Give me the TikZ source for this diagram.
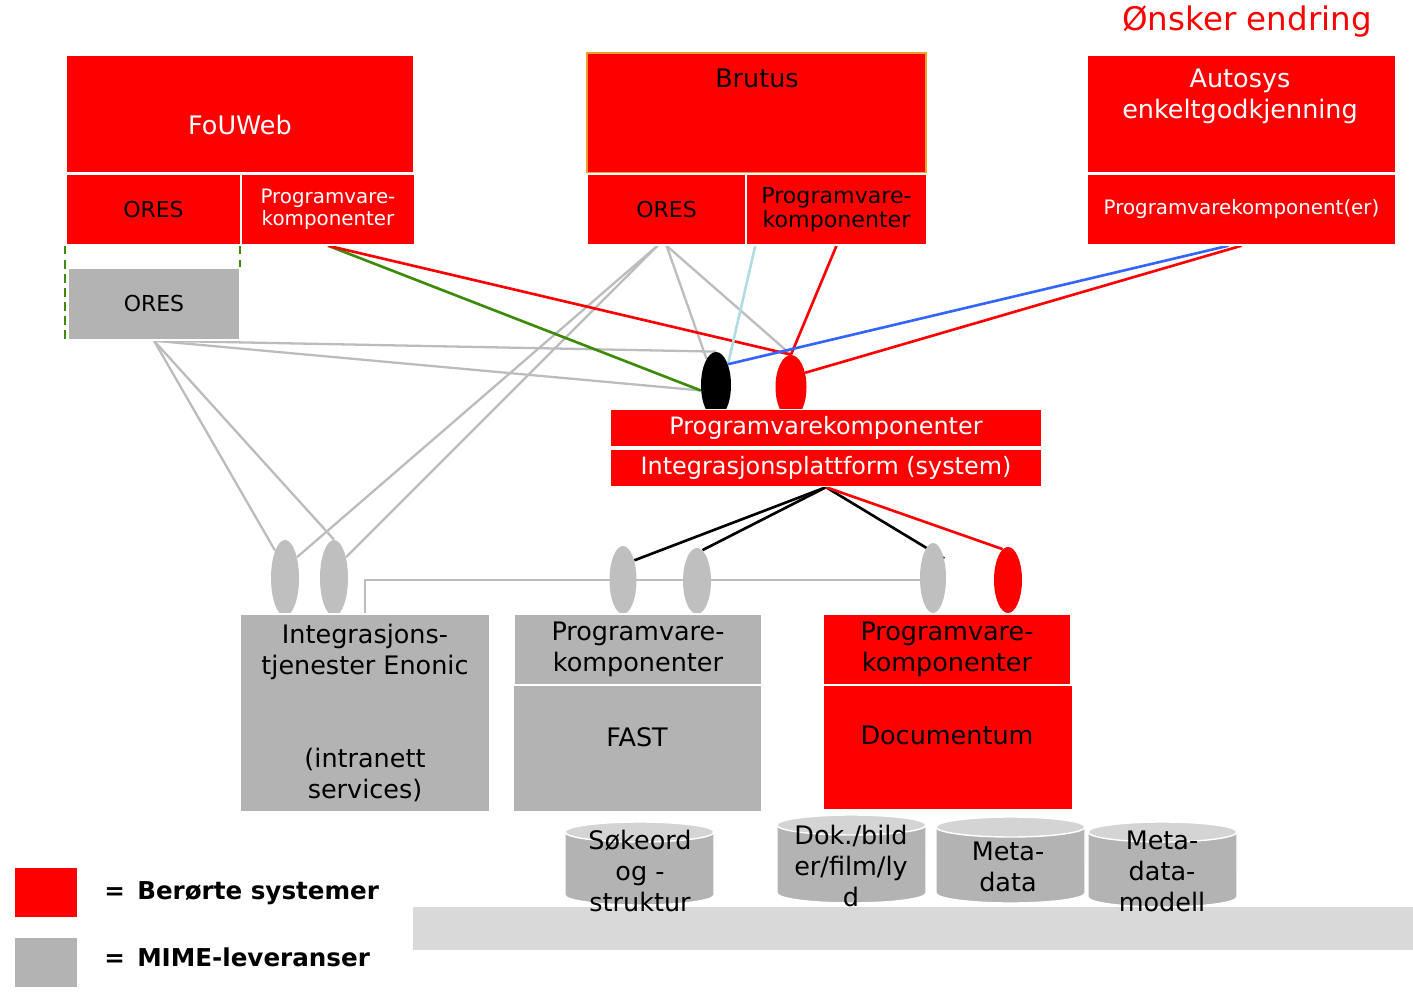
\documentclass[tikz,border=0pt]{standalone}
\usepackage{fontspec}
\setmainfont{DejaVu Sans}
\usetikzlibrary{shapes.geometric, positioning, backgrounds}

\definecolor{mimered}{RGB}{255,0,0}
\definecolor{mimegray}{RGB}{179,179,179}
\definecolor{ovalgray}{RGB}{191,191,191}
\definecolor{linegray}{RGB}{188,188,188}
\definecolor{floorgray}{RGB}{217,217,217}
\definecolor{cyltop}{RGB}{212,212,212}
\definecolor{linkblue}{RGB}{51,102,255}
\definecolor{linkcyan}{RGB}{176,221,226}
\definecolor{linkgreen}{RGB}{60,140,10}
\definecolor{brutusedge}{RGB}{240,160,40}

\newcommand\fsBody{\fontsize{14.5}{17.6}\selectfont}
\newcommand\fsMid{\fontsize{13.6}{16}\selectfont}
\newcommand\fsSmall{\fontsize{11.3}{12.6}\selectfont}
\newcommand\fsBrutus{\fontsize{12.6}{13.6}\selectfont}
\newcommand\fsOres{\fontsize{12.5}{15}\selectfont}
\newcommand\fsTitle{\fontsize{18.5}{22}\selectfont}
\newcommand\fsKey{\fontsize{14}{17}\selectfont\bfseries}

\tikzset{
  sz/.style 2 args={minimum width=#1*0.02cm, minimum height=#2*0.02cm},
  sysbox/.style={rectangle, fill=mimered, draw=white, line width=0.8pt, inner sep=0pt, align=center},
  mimebox/.style={sysbox, fill=mimegray},
  oval/.style={ellipse, fill=ovalgray, inner sep=0pt},
  txt/.style={inner sep=0pt, align=center},
  greylink/.style={draw=linegray, line width=1.3pt},
  redlink/.style={draw=mimered, line width=1.5pt},
  blacklink/.style={draw=black, line width=1.5pt},
  oresframe/.style={draw=linkgreen, line width=1.3pt, dash pattern=on 5pt off 3pt},
}

\begin{document}
\begin{tikzpicture}[x=0.02cm, y=-0.02cm]
\useasboundingbox (0,0) rectangle (1413,996);

% title
\node[txt, text=mimered, font=\fsTitle] (title) at (1247,22) {Ønsker endring};

% FoUWeb
\node[sysbox, sz={348}{118}] (fouweb) at (240,114) {};
\node[txt, text=white, font=\fsBody] (fouwebtxt) at (240,125) {FoUWeb};
\node[sysbox, sz={175}{71}, font=\fsOres] (foures) at (153.5,209.5) {ORES};
\node[sysbox, sz={173}{71}, text=white, font=\fsSmall] (fouprog) at (328,209.5) {Programvare-\\komponenter};
\node[mimebox, sz={172}{72}, font=\fsOres] (oresg) at (154,304) {ORES};
\draw[oresframe] ([xshift=-0.01cm]foures.south west) -- ([xshift=-0.01cm]foures.south west |- oresg.south);
\draw[oresframe] ([xshift=-0.04cm]foures.south east) -- ([xshift=-0.04cm]foures.south east |- oresg.north);

% Brutus
\node[sysbox, draw=brutusedge, sz={339}{120}] (brutus) at (756.5,113) {};
\node[txt, font=\fsBody] (brutustxt) at (757,78) {Brutus};
\node[sysbox, sz={159}{71}, font=\fsOres] (brures) at (666.5,209.5) {ORES};
\node[sysbox, sz={181}{71}, font=\fsBrutus] (bruprog) at (836.5,209.5) {Programvare-\\komponenter};

% Autosys
\node[sysbox, sz={309}{118}] (autosys) at (1241.5,114) {};
\node[txt, text=white, font=\fsBody] (autosystxt) at (1240,96) {Autosys\\enkeltgodkjenning};
\node[sysbox, sz={309}{71}, text=white, font=\fsSmall] (autoprog) at (1241.5,209.5) {Programvarekomponent(er)};

% integrasjonsplattform
\node[oval, fill=black, sz={30}{66}] (blackov) at (716,385) {};
\node[oval, fill=mimered, sz={31}{64}] (redov) at (791,387) {};
\node[sysbox, sz={432}{37}, text=white, font=\fsMid] (prog) at (826,428) {Programvarekomponenter};
\node[sysbox, sz={432}{37}, text=white, font=\fsMid] (integ) at (826,468) {Integrasjonsplattform (system)};

% bottom systems
\node[oval, sz={28}{76}] (ovA) at (285,578) {};
\node[oval, sz={28}{76}] (ovB) at (334,578) {};
\node[oval, sz={27}{68}] (ovC) at (623,580) {};
\node[oval, sz={28}{66}] (ovD) at (697,581) {};
\node[oval, sz={26}{70}] (ovE) at (933,578) {};
\node[oval, fill=mimered, sz={28}{66}] (ovF) at (1008,580) {};

\node[mimebox, sz={250}{198}, font=\fsBody] (intg) at (365,713) {Integrasjons-\\tjenester Enonic\\[1.24cm](intranett\\services)};
\node[mimebox, sz={248}{71}, font=\fsBody] (fastprog) at (638,649.5) {Programvare-\\komponenter};
\node[mimebox, sz={249}{127}] (fast) at (637.5,748.5) {};
\node[txt, font=\fsBody] (fasttxt) at (637,737) {FAST};
\node[sysbox, sz={248}{71}, font=\fsBody] (docprog) at (947,649.5) {Programvare-\\komponenter};
\node[sysbox, sz={250}{125}] (docum) at (948,747.5) {};
\node[txt, font=\fsBody] (documtxt) at (947,735) {Documentum};

% lagring
\node[fill=floorgray, inner sep=0pt, sz={1000}{43}] (floor) at (913,928.5) {};
\foreach \xl/\yt/\yb in {565/822/905, 777/815/903, 936/817/903, 1088/822/907} {
  \filldraw[fill=mimegray, draw=white, line width=0.8pt]
    (\xl,\yt+10) -- (\xl,\yb-10) arc[start angle=180, end angle=360, x radius=1.49cm, y radius=0.2cm]
    -- (\xl+149,\yt+10) -- cycle;
  \filldraw[fill=cyltop, draw=white, line width=0.8pt] (\xl+74.5,\yt+10) ellipse [x radius=1.49cm, y radius=0.2cm];
}
\node[txt, font=\fsBody] (sokeord) at (640,871) {Søkeord\\og -\\struktur};
\node[txt, font=\fsBody] (dokbild) at (851,866) {Dok./bild\\er/film/ly\\d};
\node[txt, font=\fsBody] (metadata) at (1008,867) {Meta-\\data};
\node[txt, font=\fsBody] (metamodell) at (1162,871) {Meta-\\data-\\modell};

% legend
\node[sysbox, sz={64}{51}] (keyred) at (46,892.5) {};
\node[mimebox, sz={64}{51}] (keygray) at (46,962.5) {};
\node[txt, anchor=west, font=\fsKey] (keyredtxt) at (104,893) {=\hspace{0.5em}Berørte systemer};
\node[txt, anchor=west, font=\fsKey] (keygraytxt) at (104,957) {=\hspace{0.5em}MIME-leveranser};

% connectors
\begin{scope}[on background layer]
\draw[greylink] (oresg.south) -- (ovA.110);
\draw[greylink] (oresg.south) -- (ovB.north);
\draw[greylink] (oresg.south) -- (blackov.north);
\draw[greylink] (oresg.south) -- (blackov.200);
\draw[greylink] ([xshift=-0.18cm]brures.south) -- (ovA.60);
\draw[greylink] ([xshift=-0.18cm]brures.south) -- (ovB.60);
\draw[greylink] (brures.south) -- (blackov.110);
\draw[greylink] (brures.south) -- (redov.north);
\draw[greylink] (intg.north) |- (ovE.190);
\draw[linkgreen, line width=1.5pt] (fouprog.south) -- (blackov.200);
\draw[redlink] (fouprog.south) -- (redov.north);
\draw[linkcyan, line width=1.5pt] ([xshift=0.2cm]bruprog.south west) -- (blackov.60);
\draw[redlink] (bruprog.south) -- (redov.north);
\draw[linkblue, line width=1.5pt] ([xshift=-0.26cm]autoprog.south) -- (blackov.60);
\draw[redlink] (autoprog.south) -- (redov.45);
\draw[blacklink] (integ.south) -- (ovC.60);
\draw[blacklink] (integ.south) -- (ovD.80);
\draw[blacklink] (integ.south) -- (ovE.60);
\draw[redlink] (integ.south) -- (ovF.100);
\end{scope}
\end{tikzpicture}
\end{document}
